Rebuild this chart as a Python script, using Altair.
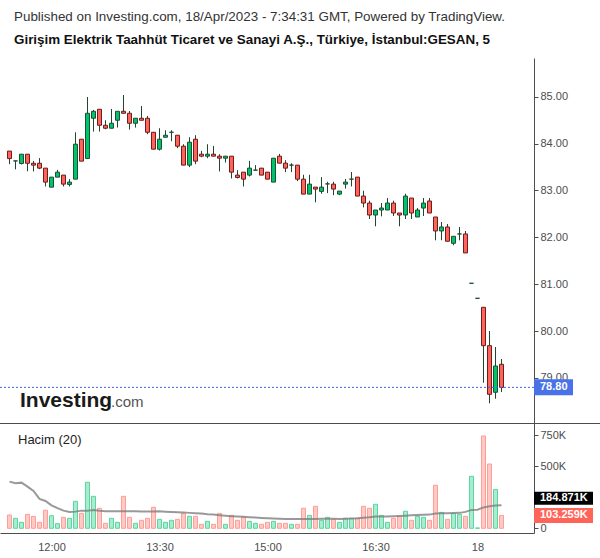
import altair as alt
import pandas as pd

# ---------------- data ----------------
opens = [83.84, 83.63, 83.575, 83.773, 83.58, 83.58, 83.476, 83.07, 83.284, 83.327,
         83.128, 83.241, 84.093, 83.681, 84.54, 84.731, 84.39, 84.327, 84.497, 84.688,
         84.646, 84.433, 84.54, 84.54, 84.241, 83.88, 84.135, 84.241, 84.178, 83.944,
         83.54, 84.093, 83.773, 83.731, 83.773, 83.731, 83.688, 83.731, 83.327, 83.39,
         83.327, 83.433, 83.476, 83.39, 83.178, 83.731, 83.582, 83.54, 83.54, 83.241,
         82.922, 83.071, 82.98, 83.14, 83.135, 82.922, 83.135, 83.241, 83.284, 82.88,
         82.731, 82.476, 82.583, 82.583, 82.731, 82.519, 82.476, 82.838, 82.434, 82.625,
         82.774, 82.434, 82.136, 82.221, 81.873, 82.072, 82.072, 81.02, 80.70, 80.508,
         79.689, 78.695, 79.292]
highs = [83.84, 83.63, 83.773, 83.773, 83.63, 83.69, 83.476, 83.284, 83.44, 83.327,
         83.241, 84.241, 84.093, 84.993, 84.717, 84.731, 84.497, 84.738, 84.688, 85.036,
         84.695, 84.54, 84.802, 84.589, 84.241, 84.327, 84.284, 84.284, 84.178, 83.986,
         84.135, 84.178, 83.844, 83.986, 83.95, 83.773, 83.731, 83.731, 83.433, 83.39,
         83.632, 83.54, 83.476, 83.39, 83.688, 83.78, 83.646, 83.582, 83.54, 83.334,
         83.334, 83.071, 83.284, 83.185, 83.185, 82.986, 83.245, 83.394, 83.284, 82.994,
         82.781, 82.583, 82.731, 82.838, 82.781, 82.519, 82.93, 82.838, 82.625, 82.838,
         82.838, 82.434, 82.327, 82.285, 82.022, 82.221, 82.136, 81.02, 80.70, 80.508,
         80.002, 79.661, 79.405]
lows = [83.56, 83.45, 83.554, 83.41, 83.405, 83.455, 83.085, 83.07, 83.284, 83.085,
        83.085, 83.241, 83.625, 83.681, 84.256, 84.256, 84.305, 84.327, 84.341, 84.646,
        84.298, 84.341, 84.497, 84.199, 83.88, 83.852, 84.135, 84.05, 83.901, 83.54,
        83.497, 83.56, 83.71, 83.688, 83.731, 83.405, 83.596, 83.256, 83.256, 83.085,
        83.298, 83.433, 83.327, 83.241, 83.178, 83.582, 83.39, 83.39, 83.199, 82.922,
        82.922, 82.746, 82.93, 82.944, 82.9, 82.9, 83.04, 83.085, 82.88, 82.639,
        82.391, 82.235, 82.448, 82.583, 82.455, 82.235, 82.391, 82.391, 82.434, 82.455,
        82.519, 81.937, 81.937, 81.916, 81.831, 81.937, 81.667, 81.02, 80.70, 78.899,
        78.46, 78.558, 78.70]
closes = [83.68, 83.63, 83.773, 83.58, 83.54, 83.476, 83.178, 83.284, 83.39, 83.135,
          83.178, 83.986, 83.625, 84.646, 84.688, 84.39, 84.327, 84.433, 84.688, 84.646,
          84.433, 84.54, 84.497, 84.241, 83.88, 84.093, 84.178, 84.241, 83.944, 83.54,
          84.029, 83.625, 83.731, 83.773, 83.731, 83.688, 83.731, 83.39, 83.277, 83.241,
          83.476, 83.433, 83.327, 83.241, 83.688, 83.582, 83.476, 83.54, 83.241, 82.922,
          83.135, 83.029, 83.071, 83.14, 83.029, 82.986, 83.178, 83.241, 82.88, 82.731,
          82.476, 82.583, 82.625, 82.731, 82.519, 82.476, 82.88, 82.519, 82.583, 82.731,
          82.519, 82.136, 82.221, 81.916, 82.022, 82.072, 81.667, 81.02, 80.70, 79.689,
          78.652, 79.256, 78.80]
# volume in thousands
volumes = [107, 80, 48, 112, 96, 48, 145, 101, 37, 88,
           80, 217, 120, 370, 257, 161, 40, 80, 48, 257,
           88, 40, 64, 80, 169, 72, 48, 64, 72, 120,
           96, 96, 32, 56, 32, 120, 32, 104, 64, 88,
           56, 40, 32, 48, 56, 40, 40, 32, 32, 161,
           104, 177, 64, 88, 72, 48, 80, 80, 80, 177,
           161, 193, 104, 48, 80, 96, 137, 64, 96, 88,
           64, 346, 128, 72, 120, 112, 96, 418, 3, 742,
           517, 313, 103.259]
# 20-bar volume average (thousands), as drawn
vol_ma = [375, 362, 367, 335, 300, 236, 220, 185, 162, 142,
          131, 134, 142, 142, 148, 142, 138, 137, 137, 137,
          137, 137, 136, 136, 136, 137, 134, 132, 130, 128,
          124, 121, 118, 113, 110, 105, 101, 97, 94, 92,
          89, 86, 83, 80, 78, 76, 75, 75, 75, 75,
          75, 75, 76, 76, 76, 75, 77, 78, 80, 84,
          88, 94, 94, 95, 96, 98, 101, 104, 106, 108,
          110, 118, 120, 121, 122, 124, 132, 148, 150, 168,
          178, 183, 184.871]
tick_pos = [7, 25, 43, 61, 78]
tick_lab = ["12:00", "13:30", "15:00", "16:30", "18"]
price_ticks = [79, 80, 81, 82, 83, 84, 85]
vol_ticks = [0, 500, 750]

title1 = "Published on Investing.com, 18/Apr/2023 - 7:34:31 GMT, Powered by TradingView."
title2 = "Girişim Elektrik Taahhüt Ticaret ve Sanayi A.Ş., Türkiye, İstanbul:GESAN, 5"

n = len(closes)
df = pd.DataFrame({"k": list(range(n)), "o": opens, "h": highs, "l": lows,
                   "c": closes, "vol": volumes, "ma": vol_ma})
last = n - 1

FONT = "Liberation Sans"
AX = "#4d4d4d"
UP, DOWN = "#00c46c", "#ff645a"
UP_EDGE, DOWN_EDGE = "#1d4f33", "#6e1c1c"
WICK = "#21442f"

label_expr = ""
for p, t in zip(tick_pos, tick_lab):
    label_expr += f"datum.value == {p} ? '{t}' : "
label_expr += "''"

x_scale = alt.Scale(domain=[-1.583, 87.417], nice=False, zero=False, padding=0)
x_axis = alt.Axis(values=tick_pos, labelExpr=label_expr, ticks=False, grid=False,
                  domainColor=AX, labelColor=AX, labelFontSize=11, labelFont=FONT,
                  labelPadding=8, title=None)
X = alt.X("k:Q", scale=x_scale, axis=x_axis)

price_scale = alt.Scale(domain=[78.040, 85.825], range=[423, 58], nice=False, zero=False)
price_axis = alt.Axis(orient="right", values=price_ticks, format=".2f", tickSize=4,
                      labelPadding=2, grid=False, domainColor=AX, tickColor=AX,
                      labelColor=AX, labelFontSize=11, labelFont=FONT, title=None)

vol_scale = alt.Scale(domain=[-37.8, 846.5], range=[533, 423], nice=False, zero=False)
vol_axis = alt.Axis(orient="right", values=vol_ticks,
                    labelExpr="datum.value == 0 ? '0' : datum.value + 'K'",
                    tickSize=4, labelPadding=2, grid=False, domainColor=AX, tickColor=AX,
                    labelColor=AX, labelFontSize=11, labelFont=FONT, title=None)

base = alt.Chart(df)
up_test = "datum.c >= datum.o"

wicks = base.mark_rule(color=WICK, strokeWidth=1).encode(
    x=X, y=alt.Y("l:Q", scale=price_scale, axis=price_axis), y2="h:Q")
bodies = base.mark_bar(width=4, strokeWidth=1).encode(
    x=X, y=alt.Y("o:Q", scale=price_scale, axis=price_axis), y2="c:Q",
    fill=alt.condition(up_test, alt.value(UP), alt.value(DOWN)),
    stroke=alt.condition(up_test, alt.value(UP_EDGE), alt.value(DOWN_EDGE)))
lastrow = base.transform_filter(f"datum.k == {last}")
price_line = lastrow.mark_rule(strokeDash=[2, 2], color="#3d66e3", strokeWidth=1).encode(
    x=alt.value(0), x2=alt.value(534), y=alt.Y("c:Q", scale=price_scale, axis=price_axis))
price_box = lastrow.mark_rule(strokeWidth=16, color="#4a72e8", strokeCap="butt").encode(
    x=alt.value(534), x2=alt.value(573), y=alt.Y("c:Q", scale=price_scale, axis=price_axis))
price_txt = lastrow.transform_calculate(lab="format(datum.c, '.2f')").mark_text(
    align="left", baseline="middle", font=FONT, fontSize=11, fontWeight="bold",
    color="white").encode(x=alt.value(540), y=alt.Y("c:Q", scale=price_scale, axis=price_axis),
                          text="lab:N")

price = alt.layer(wicks, bodies, price_line, price_box, price_txt)

vbars = base.mark_bar(width=4, strokeWidth=1).encode(
    x=X, y=alt.Y("vol:Q", scale=vol_scale, axis=vol_axis), y2=alt.datum(0),
    fill=alt.condition(up_test, alt.value("#a9ecd0"), alt.value("#ffcac6")),
    stroke=alt.condition(up_test, alt.value("#5ad6a0"), alt.value("#ff9d96")))
maline = base.mark_line(color="#7f7f7f", strokeWidth=2, opacity=0.8).encode(
    x=X, y=alt.Y("ma:Q", scale=vol_scale, axis=vol_axis))
ma_box = lastrow.mark_rule(strokeWidth=13, color="#000000", strokeCap="butt", yOffset=-7).encode(
    x=alt.value(534), x2=alt.value(593), y=alt.Y("ma:Q", scale=vol_scale, axis=vol_axis))
ma_txt = lastrow.transform_calculate(lab="format(datum.ma, '.3f') + 'K'").mark_text(
    align="left", baseline="middle", font=FONT, fontSize=11, fontWeight="bold",
    color="white", yOffset=-7).encode(
    x=alt.value(540), y=alt.Y("ma:Q", scale=vol_scale, axis=vol_axis), text="lab:N")
v_box = lastrow.mark_rule(strokeWidth=15, color="#ff6459", strokeCap="butt").encode(
    x=alt.value(534), x2=alt.value(593), y=alt.Y("vol:Q", scale=vol_scale, axis=vol_axis))
v_txt = lastrow.transform_calculate(lab="format(datum.vol, '.3f') + 'K'").mark_text(
    align="left", baseline="middle", font=FONT, fontSize=11, fontWeight="bold",
    color="white").encode(
    x=alt.value(540), y=alt.Y("vol:Q", scale=vol_scale, axis=vol_axis), text="lab:N")

volume = alt.layer(vbars, maline, ma_box, ma_txt, v_box, v_txt)

one = alt.Chart(pd.DataFrame({"a": [0]}))
sep = one.mark_rule(color=AX, strokeWidth=1).encode(
    x=alt.value(0), x2=alt.value(600), y=alt.value(423.5))
t1 = one.mark_text(align="left", baseline="alphabetic", font=FONT, fontSize=13.4,
                   color="#333333").encode(x=alt.value(14), y=alt.value(21), text=alt.value(title1))
t2 = one.mark_text(align="left", baseline="alphabetic", font=FONT, fontSize=13.4,
                   fontWeight="bold", color="#111111").encode(
    x=alt.value(14), y=alt.value(44), text=alt.value(title2))
hacim = one.mark_text(align="left", baseline="alphabetic", font=FONT, fontSize=13,
                      color="#222222").encode(x=alt.value(18), y=alt.value(444),
                                              text=alt.value("Hacim (20)"))
logo1 = one.mark_text(align="left", baseline="alphabetic", font=FONT, fontSize=21,
                      fontWeight="bold", color="#1a1a1a").encode(
    x=alt.value(20), y=alt.value(407), text=alt.value("Investing"))
logo2 = one.mark_text(align="left", baseline="alphabetic", font=FONT, fontSize=15,
                      color="#555555").encode(x=alt.value(111), y=alt.value(407),
                                              text=alt.value(".com"))
decor = alt.layer(sep, t1, t2, hacim, logo1, logo2)

chart = alt.layer(price, volume, decor).resolve_scale(y="independent").properties(
    width=534, height=533,
    autosize=alt.AutoSizeParams(type="none"),
    padding={"left": 0, "top": 0, "right": 66, "bottom": 25},
    background="white",
).configure_view(stroke=None)

chart.save("out.html", embed_options={"renderer": "svg", "actions": False})
